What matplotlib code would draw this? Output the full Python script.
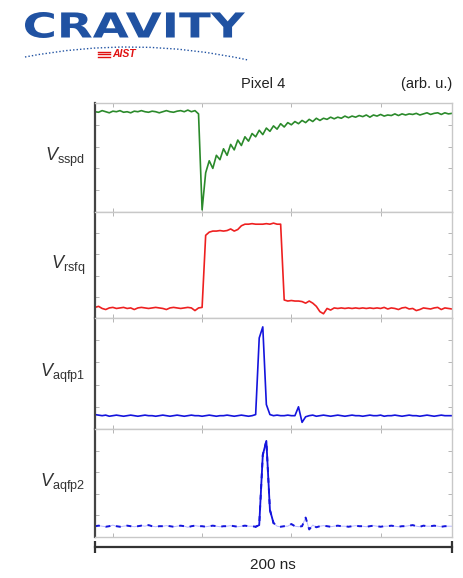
import numpy as np
import matplotlib
matplotlib.use("Agg")
import matplotlib.pyplot as plt
from matplotlib.textpath import TextPath
from matplotlib.patches import PathPatch
from matplotlib.path import Path
from matplotlib.font_manager import FontProperties
from matplotlib.transforms import Affine2D, IdentityTransform, blended_transform_factory

plt.rcParams['font.family'] = ['Liberation Sans', 'DejaVu Sans']
plt.rcParams['mathtext.fontset'] = 'custom'
plt.rcParams['mathtext.it'] = 'Liberation Sans:italic'
plt.rcParams['mathtext.rm'] = 'Liberation Sans'

# sample times (ns), one sample every 2 ns
time_ns = np.arange(0, 201, 2)

# traces, normalised to each panel (arb. u.)
v_sspd = [0.92, 0.915, 0.93, 0.92, 0.91, 0.925, 0.92, 0.93, 0.915, 0.92,
          0.91, 0.925, 0.92, 0.93, 0.92, 0.915, 0.925, 0.92, 0.91, 0.92,
          0.93, 0.92, 0.915, 0.925, 0.93, 0.92, 0.935, 0.92, 0.93, 0.90,
          0.02, 0.36, 0.47, 0.40, 0.52, 0.48, 0.58, 0.52, 0.62, 0.57,
          0.66, 0.61, 0.69, 0.65, 0.72, 0.69, 0.75, 0.71, 0.77, 0.74,
          0.79, 0.76, 0.81, 0.78, 0.82, 0.80, 0.83, 0.81, 0.84, 0.82,
          0.85, 0.83, 0.86, 0.84, 0.86, 0.85, 0.87, 0.855, 0.87, 0.86,
          0.88, 0.865, 0.88, 0.87, 0.885, 0.875, 0.89, 0.87, 0.89, 0.88,
          0.895, 0.88, 0.89, 0.885, 0.90, 0.885, 0.90, 0.89, 0.90, 0.895,
          0.905, 0.89, 0.90, 0.91, 0.895, 0.905, 0.91, 0.895, 0.91, 0.90,
          0.905]

v_rsfq = [0.10, 0.11, 0.09, 0.08, 0.095, 0.10, 0.09, 0.095, 0.10, 0.09,
          0.095, 0.08, 0.095, 0.10, 0.095, 0.09, 0.095, 0.10, 0.095, 0.09,
          0.08, 0.095, 0.10, 0.095, 0.09, 0.095, 0.10, 0.095, 0.07, 0.095,
          0.10, 0.78, 0.81, 0.82, 0.82, 0.825, 0.82, 0.825, 0.84, 0.82,
          0.835, 0.87, 0.885, 0.885, 0.89, 0.885, 0.885, 0.885, 0.89, 0.885,
          0.895, 0.885, 0.885, 0.17, 0.16, 0.165, 0.16, 0.16, 0.155, 0.14,
          0.16, 0.14, 0.11, 0.06, 0.04, 0.09, 0.075, 0.095, 0.09, 0.095,
          0.09, 0.095, 0.09, 0.095, 0.09, 0.095, 0.09, 0.095, 0.09, 0.095,
          0.09, 0.10, 0.085, 0.095, 0.09, 0.08, 0.095, 0.10, 0.085, 0.09,
          0.07, 0.08, 0.095, 0.09, 0.085, 0.095, 0.10, 0.08, 0.095, 0.09,
          0.085]

v_aqfp1 = [0.13, 0.125, 0.12, 0.125, 0.115, 0.12, 0.125, 0.12, 0.115, 0.12,
           0.125, 0.12, 0.115, 0.12, 0.125, 0.12, 0.12, 0.115, 0.12, 0.125,
           0.12, 0.115, 0.12, 0.125, 0.12, 0.115, 0.12, 0.125, 0.12, 0.12,
           0.115, 0.12, 0.125, 0.12, 0.115, 0.12, 0.12, 0.125, 0.12, 0.115,
           0.12, 0.125, 0.12, 0.115, 0.12, 0.13, 0.82, 0.92, 0.22, 0.13,
           0.12, 0.125, 0.12, 0.12, 0.125, 0.12, 0.12, 0.20, 0.06, 0.11,
           0.12, 0.125, 0.115, 0.12, 0.125, 0.12, 0.115, 0.12, 0.125, 0.12,
           0.115, 0.12, 0.125, 0.12, 0.12, 0.115, 0.12, 0.125, 0.12, 0.12,
           0.125, 0.115, 0.12, 0.12, 0.125, 0.12, 0.115, 0.12, 0.125, 0.12,
           0.12, 0.115, 0.12, 0.125, 0.12, 0.115, 0.12, 0.125, 0.12, 0.12,
           0.12]

v_aqfp2 = [0.10, 0.105, 0.10, 0.095, 0.10, 0.11, 0.10, 0.095, 0.10, 0.105,
           0.10, 0.095, 0.10, 0.105, 0.10, 0.11, 0.10, 0.095, 0.10, 0.10,
           0.105, 0.10, 0.095, 0.10, 0.105, 0.10, 0.09, 0.10, 0.105, 0.10,
           0.10, 0.095, 0.10, 0.105, 0.10, 0.095, 0.10, 0.10, 0.105, 0.10,
           0.095, 0.10, 0.105, 0.10, 0.10, 0.095, 0.11, 0.76, 0.89, 0.25,
           0.13, 0.10, 0.095, 0.10, 0.10, 0.12, 0.10, 0.095, 0.10, 0.18,
           0.07, 0.11, 0.09, 0.10, 0.105, 0.10, 0.095, 0.10, 0.105, 0.10,
           0.10, 0.095, 0.10, 0.105, 0.10, 0.10, 0.095, 0.10, 0.105, 0.10,
           0.095, 0.10, 0.10, 0.105, 0.10, 0.095, 0.10, 0.10, 0.105, 0.11,
           0.10, 0.095, 0.105, 0.10, 0.10, 0.105, 0.10, 0.095, 0.10, 0.10,
           0.10]

labels = [r'$V_\mathregular{sspd}$', r'$V_\mathregular{rsfq}$',
          r'$V_\mathregular{aqfp1}$', r'$V_\mathregular{aqfp2}$']
colors = ['#2b8a2b', '#ee2020', '#1414dd', '#1414dd']
x_ticks = [10, 60, 110, 160]
y_ticks = [0.2, 0.4, 0.6, 0.8]

W, H = 464, 578
fig = plt.figure(figsize=(W / 100, H / 100), dpi=100)

# panel edges in pixels (top, bottom)
panels = [(103, 212), (212, 318), (318, 429), (429, 537)]
left, right = 95, 452
traces = [v_sspd, v_rsfq, v_aqfp1, v_aqfp2]
axes = []
for i, (top, bot) in enumerate(panels):
    ax = fig.add_axes([left / W, 1 - bot / H, (right - left) / W, (bot - top) / H])
    if i == 3:
        # faint continuous trace with broken darker overlay, solid around the pulse
        ax.plot(time_ns, traces[i], color='#8888ff', lw=0.7, alpha=0.6)
        ax.plot(time_ns, traces[i], color=colors[i], lw=1.4, dashes=(2.5, 3))
        ax.plot(time_ns[45:51], traces[i][45:51], color=colors[i], lw=1.3)
    else:
        ax.plot(time_ns, traces[i], color=colors[i], lw=1.2)
    ax.set_xlim(0, 200)
    ax.set_ylim(0, 1)
    ax.set_xticks(x_ticks)
    ax.set_yticks(y_ticks)
    ax.tick_params(direction='in', length=3, width=0.6, color='#aaaaaa',
                   top=True, right=True, labelbottom=False, labelleft=False)
    for s in ['top', 'bottom', 'right']:
        ax.spines[s].set_color('#c8c8c8')
        ax.spines[s].set_linewidth(1.0)
    ax.spines['left'].set_color('#444444')
    ax.spines['left'].set_linewidth(1.6)
    ax.text(-0.028, 0.5, labels[i], transform=ax.transAxes, ha='right',
            va='center', fontsize=13, color='#333333')
    axes.append(ax)

# titles
fig.text(263 / W, 1 - 84 / H, 'Pixel 4', ha='center', va='center', fontsize=10.5, color='#222222')
fig.text(452 / W, 1 - 84 / H, '(arb. u.)', ha='right', va='center', fontsize=10.5, color='#222222')

# scale bar under the last panel
ax4 = axes[-1]
tr = blended_transform_factory(ax4.transData, ax4.transAxes)
ax4.plot([0, 200], [-0.095, -0.095], color='#333333', lw=1.6, transform=tr,
         clip_on=False, marker='|', markersize=8, markeredgewidth=1.6)
fig.text(273 / W, 1 - 565 / H, '200 ns', ha='center', va='center', fontsize=11, color='#222222')

# logo
fp = FontProperties(family='DejaVu Sans', weight='bold')
tp = TextPath((0, 0), 'CRAVITY', size=100, prop=fp)
ext = tp.get_extents()
sx = 220 / ext.width
sy = 26 / ext.height
trans = Affine2D().translate(-ext.x0, -ext.y0).scale(sx, sy).translate(25, H - 38)
fig.add_artist(PathPatch(trans.transform_path(tp), facecolor='#2052a2', lw=0,
                         transform=IdentityTransform()))
arc = Path([(25, H - 57), (136, H - 35.5), (248, H - 60)],
           [Path.MOVETO, Path.CURVE3, Path.CURVE3])
fig.add_artist(PathPatch(arc, facecolor='none', edgecolor='#2052a2', lw=1.0,
                         linestyle=(0, (1, 1.5)), transform=IdentityTransform()))
fig.text(112 / W, 1 - 54 / H, 'AIST', ha='left', va='center', fontsize=7.5,
         color='#e01010', weight='bold', style='italic')
for yy in [51.5, 54, 56.5]:
    fig.add_artist(plt.Line2D([98 / W, 110 / W], [1 - yy / H, 1 - yy / H],
                              color='#e01010', lw=1.0))

fig.savefig('out.png', dpi=100)
